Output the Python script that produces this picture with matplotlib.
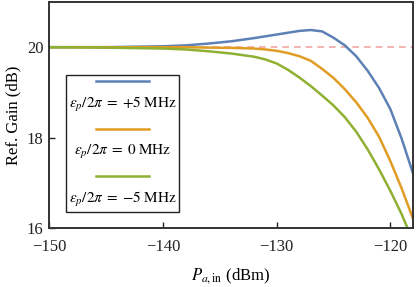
import matplotlib
matplotlib.use('Agg')
import matplotlib.pyplot as plt
from matplotlib.lines import Line2D
from matplotlib.offsetbox import AnchoredOffsetbox, DrawingArea, TextArea, VPacker

plt.rcParams['font.family'] = ['Liberation Serif', 'DejaVu Serif']
plt.rcParams['mathtext.fontset'] = 'stix'

p_in = [-150, -145, -140, -138, -136, -134, -132, -131, -130, -129, -128,
        -127, -126, -125, -124, -123, -122, -121, -120, -119, -118]
gain_plus5 = [20.0, 20.0, 20.02, 20.04, 20.08, 20.13, 20.2, 20.24, 20.28, 20.32, 20.36,
              20.38, 20.35, 20.21, 20.04, 19.8, 19.48, 19.1, 18.63, 17.97, 17.2]
gain_zero = [20.0, 20.0, 20.0, 20.0, 19.99, 19.985, 19.97, 19.95, 19.92, 19.87, 19.8,
             19.7, 19.52, 19.32, 19.07, 18.78, 18.44, 18.02, 17.48, 16.87, 16.2]
gain_minus5 = [20.0, 19.99, 19.97, 19.95, 19.91, 19.86, 19.79, 19.73, 19.64, 19.5, 19.33,
               19.14, 18.93, 18.71, 18.45, 18.13, 17.74, 17.3, 16.82, 16.3, 15.7]
labels = [r'$\varepsilon_p/2\pi\;=\;{+}5\;\mathrm{MHz}$',
          r'$\varepsilon_p/2\pi\;=\;0\;\mathrm{MHz}$',
          r'$\varepsilon_p/2\pi\;=\;{-}5\;\mathrm{MHz}$']
colors = ['#5E81B5', '#E19C24', '#8FB032']
target_gain = 20

fig = plt.figure(figsize=(4.16, 2.87), dpi=100)
ax = fig.add_axes([0.118, 0.206, 0.875, 0.787])

ax.axhline(target_gain, color='#F4A6A6', lw=1.2, ls=(0, (4, 3)), zorder=1)
lines = []
for g, c in zip([gain_plus5, gain_zero, gain_minus5], colors):
    ln, = ax.plot(p_in, g, color=c, lw=1.8, zorder=2, solid_joinstyle='round')
    lines.append(ln)

ax.set_xlim(-150, -118)
ax.set_ylim(16, 21)
ax.set_xticks([-150, -140, -130, -120])
ax.set_xticklabels(['\u2212150', '\u2212140', '\u2212130', '\u2212120'])
ax.set_yticks([16, 18, 20])
ax.tick_params(direction='in', length=4, width=1, labelsize=12, colors='#222222',
               top=False, right=False)
ax.tick_params(axis='x', pad=8)
ax.tick_params(axis='y', pad=4)
for s in ax.spines.values():
    s.set_linewidth(1.4)
    s.set_color('#333333')

ax.set_xlabel(r'$P_{a,\mathrm{in}}$ (dBm)', fontsize=12, labelpad=8)
ax.set_ylabel('Ref. Gain (dB)', fontsize=12, labelpad=4)

# legend: line on top, label centred below
items = []
for ln, lab in zip(lines, labels):
    da = DrawingArea(38, 4, 0, 0)
    da.add_artist(Line2D([0, 38], [2, 2], color=ln.get_color(), lw=1.8))
    ta = TextArea(lab, textprops=dict(fontsize=11))
    items.append(VPacker(children=[da, ta], align='center', pad=0, sep=8))
box = VPacker(children=items, align='center', pad=0, sep=9)
anch = AnchoredOffsetbox(loc='lower left', child=box, pad=0.2, borderpad=0,
                         frameon=True, bbox_to_anchor=(0.047, 0.071),
                         bbox_transform=ax.transAxes)
anch.patch.set_boxstyle('square', pad=0)
anch.patch.set_edgecolor('#222222')
anch.patch.set_linewidth(1.0)
ax.add_artist(anch)

fig.savefig('out.png', dpi=100)
